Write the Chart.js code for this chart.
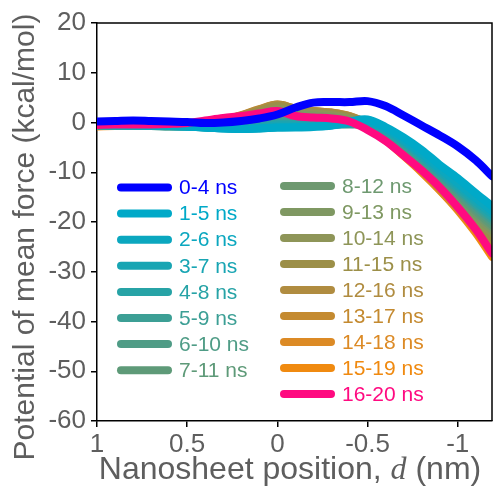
<!DOCTYPE html>
<html>
<head>
<meta charset="utf-8">
<script src="https://cdn.jsdelivr.net/npm/chart.js@4.4.0/dist/chart.umd.min.js"></script>
<style>
  body { margin: 0; background: #fff; }
</style>
</head>
<body>
<canvas id="pmf-chart" width="499" height="489"></canvas>
<script>
// Nanosheet position d (nm), left to right on a reversed axis
const positions = [1, 0.9, 0.8, 0.7, 0.6, 0.5, 0.4, 0.3, 0.2, 0.1, 0, -0.1, -0.2, -0.3, -0.4, -0.5, -0.6, -0.7, -0.8, -0.9, -1.0, -1.1, -1.19];

// PMF (kcal/mol) for each time window
const pmf_0_4   = [0.2, 0.3, 0.4, 0.3, 0.2, 0.1, -0.1, 0.0, 0.3, 0.8, 1.6, 3.0, 4.0, 4.1, 4.1, 4.3, 3.3, 1.4, -0.6, -2.6, -4.8, -7.6, -10.8];
const pmf_1_5   = [-0.4, -0.5, -0.5, -0.6, -0.6, -0.8, -1.0, -1.2, -1.3, -1.2, -1.0, -1.0, -0.9, -0.6, 0.2, 0.6, -0.9, -3.0, -5.5, -8.5, -11.2, -14.2, -16.8];
const pmf_2_6   = [-0.5, -0.5, -0.6, -0.6, -0.7, -0.8, -1.0, -1.2, -1.3, -1.2, -1.0, -0.9, -0.8, -0.6, 0.0, 0.3, -1.2, -3.5, -6.2, -9.2, -12.2, -15.2, -17.8];
const pmf_3_7   = [-0.5, -0.6, -0.6, -0.7, -0.7, -0.8, -1.0, -1.1, -1.2, -1.0, -0.6, -0.6, -0.6, -0.5, -0.1, 0.1, -1.5, -3.8, -6.6, -9.7, -12.7, -15.8, -18.4];
const pmf_4_8   = [-0.5, -0.6, -0.6, -0.7, -0.7, -0.8, -1.0, -1.0, -1.0, -0.7, -0.3, -0.3, -0.4, -0.4, -0.3, -0.1, -1.8, -4.1, -7.0, -10.1, -13.2, -16.3, -19.0];
const pmf_5_9   = [-0.6, -0.6, -0.7, -0.7, -0.8, -0.8, -0.9, -0.9, -0.8, -0.4, 0.0, 0.0, -0.2, -0.4, -0.4, -0.4, -2.0, -4.4, -7.3, -10.5, -13.6, -16.8, -19.5];
const pmf_6_10  = [-0.6, -0.6, -0.7, -0.7, -0.8, -0.8, -0.8, -0.7, -0.5, 0.0, 0.4, 0.3, 0.0, -0.2, -0.3, -0.6, -2.2, -4.6, -7.6, -10.8, -14.0, -17.3, -20.0];
const pmf_7_11  = [-0.6, -0.6, -0.7, -0.7, -0.7, -0.7, -0.7, -0.5, -0.2, 0.4, 0.9, 0.7, 0.4, 0.1, -0.2, -0.7, -2.4, -4.8, -7.8, -11.1, -14.4, -17.8, -20.6];
const pmf_8_12  = [-0.6, -0.6, -0.6, -0.6, -0.7, -0.7, -0.6, -0.3, 0.2, 0.8, 1.5, 1.2, 0.9, 0.6, 0.1, -0.6, -2.5, -5.0, -8.1, -11.4, -14.8, -18.3, -21.0];
const pmf_9_13  = [-0.6, -0.6, -0.6, -0.6, -0.7, -0.6, -0.5, -0.1, 0.6, 1.3, 2.1, 1.7, 1.4, 1.1, 0.5, -0.5, -2.6, -5.2, -8.4, -11.8, -15.2, -18.8, -21.6];
const pmf_10_14 = [-0.6, -0.6, -0.6, -0.6, -0.6, -0.6, -0.4, 0.1, 0.9, 1.8, 2.7, 2.2, 1.8, 1.5, 0.8, -0.4, -2.7, -5.4, -8.7, -12.1, -15.6, -19.3, -22.2];
const pmf_11_15 = [-0.6, -0.6, -0.6, -0.6, -0.6, -0.5, -0.3, 0.3, 1.2, 2.3, 3.3, 2.6, 2.1, 1.8, 1.1, -0.3, -2.8, -5.6, -9.0, -12.5, -16.1, -19.9, -23.0];
const pmf_12_16 = [-0.6, -0.6, -0.6, -0.6, -0.6, -0.5, -0.2, 0.4, 1.4, 2.6, 3.6, 2.8, 2.3, 2.0, 1.3, -0.2, -2.9, -5.8, -9.3, -12.9, -16.6, -20.5, -23.8];
const pmf_13_17 = [-0.7, -0.6, -0.6, -0.6, -0.6, -0.5, -0.2, 0.5, 1.5, 2.7, 3.6, 2.8, 2.3, 2.0, 1.3, -0.3, -3.0, -6.0, -9.5, -13.2, -17.0, -21.0, -24.6];
const pmf_14_18 = [-0.7, -0.7, -0.6, -0.6, -0.6, -0.5, -0.2, 0.5, 1.4, 2.5, 3.3, 2.4, 2.0, 1.8, 1.1, -0.6, -3.2, -6.3, -9.8, -13.5, -17.4, -21.6, -25.4];
const pmf_15_19 = [-0.8, -0.7, -0.7, -0.6, -0.6, -0.5, -0.2, 0.5, 1.2, 2.2, 2.8, 1.8, 1.4, 1.2, 0.6, -1.2, -3.6, -6.7, -10.0, -13.6, -17.6, -22.2, -27.0];
const pmf_16_20 = [-0.5, -0.4, -0.4, -0.4, -0.3, -0.1, 0.4, 0.9, 1.3, 1.8, 2.3, 1.3, 1.0, 0.8, 0.2, -1.5, -3.7, -6.6, -9.6, -13.0, -17.0, -21.5, -26.3];

const windowLabels = ['0-4 ns', '1-5 ns', '2-6 ns', '3-7 ns', '4-8 ns', '5-9 ns', '6-10 ns', '7-11 ns',
  '8-12 ns', '9-13 ns', '10-14 ns', '11-15 ns', '12-16 ns', '13-17 ns', '14-18 ns', '15-19 ns', '16-20 ns'];
const windowSeries = [pmf_0_4, pmf_1_5, pmf_2_6, pmf_3_7, pmf_4_8, pmf_5_9, pmf_6_10, pmf_7_11,
  pmf_8_12, pmf_9_13, pmf_10_14, pmf_11_15, pmf_12_16, pmf_13_17, pmf_14_18, pmf_15_19, pmf_16_20];

const yTicks = [-60, -50, -40, -30, -20, -10, 0, 10, 20];
const xTicks = [1, 0.5, 0, -0.5, -1];

const colors = ['#0000ff', '#00a9c8', '#0ba7bf', '#18a5b3', '#27a3a6', '#3c9f95', '#4f9c86', '#5e9a78',
  '#6e9970', '#7f9862', '#8e9558', '#9c8f48', '#b08c40', '#c48a30', '#dc8a25', '#f08a10', '#ff0a80'];

const FONT = "'Liberation Sans', Arial, sans-serif";
const GREY = '#5e5e5e';

// draw order: blue on top, pink next, then the rest
const drawOrder = (i) => i === 0 ? 0 : (i === 16 ? 1 : i + 1);

const datasets = windowSeries.map((vals, i) => ({
  label: windowLabels[i],
  data: positions.map((x, j) => ({ x: x, y: vals[j] })),
  borderColor: colors[i],
  backgroundColor: colors[i],
  borderWidth: 8,
  pointRadius: 0,
  tension: 0.35,
  borderCapStyle: 'round',
  borderJoinStyle: 'round',
  clip: 0,
  order: drawOrder(i)
}));

// box, in-plot legend and the axis titles (x title has an italic d)
const extras = {
  id: 'extras',
  afterDatasetsDraw(chart) {
    const ctx = chart.ctx, a = chart.chartArea;
    ctx.save();
    ctx.strokeStyle = '#000';
    ctx.lineWidth = 1.5;
    ctx.beginPath();
    ctx.moveTo(a.left, a.top);
    ctx.lineTo(a.right, a.top);
    ctx.lineTo(a.right, a.bottom);
    ctx.stroke();
    ctx.restore();
  },
  afterDraw(chart) {
    const ctx = chart.ctx;
    ctx.save();
    // legend, two columns
    ctx.font = '21px ' + FONT;
    ctx.textBaseline = 'middle';
    ctx.lineCap = 'round';
    ctx.lineWidth = 8;
    windowLabels.forEach((lab, i) => {
      let x0, x1, tx, y;
      if (i < 8) { x0 = 121; x1 = 168; tx = 179; y = 187.5 + i * 26.1; }
      else { x0 = 284; x1 = 331; tx = 342; y = 186 + (i - 8) * 26; }
      ctx.strokeStyle = colors[i];
      ctx.beginPath();
      ctx.moveTo(x0, y);
      ctx.lineTo(x1, y);
      ctx.stroke();
      ctx.fillStyle = colors[i];
      ctx.fillText(lab, tx, y + 1);
    });
    // x axis title
    const parts = [
      { t: 'Nanosheet position, ', f: '32px ' + FONT },
      { t: 'd', f: "italic 32px 'Liberation Serif', 'Times New Roman', serif" },
      { t: ' (nm)', f: '32px ' + FONT }
    ];
    let w = 0;
    parts.forEach(p => { ctx.font = p.f; p.w = ctx.measureText(p.t).width; w += p.w; });
    let x = 290 - w / 2;
    ctx.fillStyle = GREY;
    ctx.textBaseline = 'alphabetic';
    parts.forEach(p => { ctx.font = p.f; ctx.fillText(p.t, x, 479); x += p.w; });
    // y axis title
    ctx.translate(26, 237);
    ctx.rotate(-Math.PI / 2);
    ctx.font = '30px ' + FONT;
    ctx.textAlign = 'center';
    ctx.textBaseline = 'middle';
    ctx.fillText('Potential of mean force (kcal/mol)', 0, 0);
    ctx.restore();
  }
};

const config_pmf = {
  type: 'line',
  data: { datasets: datasets },
  options: {
    responsive: false,
    animation: false,
    layout: { padding: { top: 23, right: 7, left: 0, bottom: 0 } },
    plugins: { legend: { display: false }, tooltip: { enabled: false } },
    scales: {
      x: {
        type: 'linear',
        reverse: true,
        min: -1.19,
        max: 1,
        afterBuildTicks: (s) => { s.ticks = xTicks.map(v => ({ value: v })); },
        afterFit: (s) => { s.height = 68; },
        ticks: {
          autoSkip: false, maxRotation: 0, padding: 2,
          color: GREY, font: { family: FONT, size: 26 },
          callback: (v) => String(v)
        },
        grid: { drawOnChartArea: false, tickLength: 6, color: '#000', lineWidth: 1.5 },
        border: { color: '#000', width: 1.5 }
      },
      y: {
        min: -60,
        max: 20,
        afterBuildTicks: (s) => { s.ticks = yTicks.map(v => ({ value: v })); },
        afterFit: (s) => { s.width = 97; },
        ticks: {
          padding: 5,
          color: GREY, font: { family: FONT, size: 26 },
          callback: (v) => String(v)
        },
        grid: { drawOnChartArea: false, tickLength: 6, color: '#000', lineWidth: 1.5 },
        border: { color: '#000', width: 1.5 }
      }
    }
  },
  plugins: [extras]
};

const canvas_pmf = document.getElementById('pmf-chart');
const pmfChart = new Chart(canvas_pmf, config_pmf);
</script>
</body>
</html>
